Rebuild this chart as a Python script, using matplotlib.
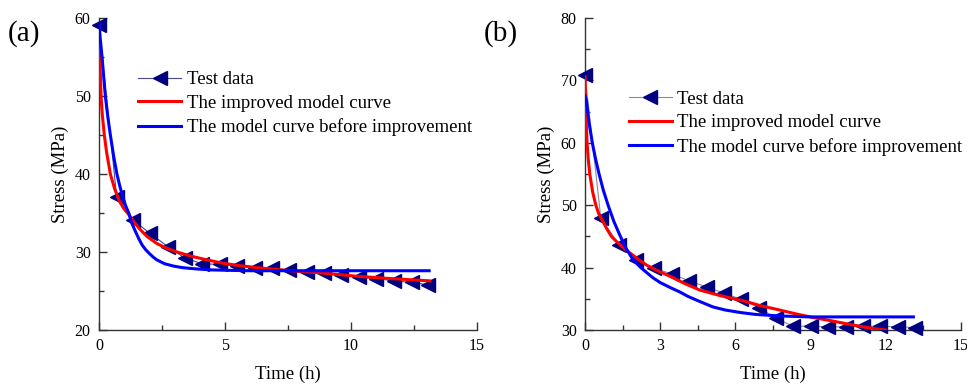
import matplotlib
matplotlib.use("Agg")
import matplotlib.pyplot as plt
from matplotlib.ticker import MultipleLocator

plt.rcParams['font.family'] = ['Liberation Serif', 'DejaVu Serif']

# ---- panel (a) ----
time_a = [0.0, 0.70, 1.34, 2.02, 2.73, 3.41, 4.10, 4.80, 5.49, 6.18,
          6.87, 7.55, 8.24, 8.93, 9.62, 10.30, 11.00, 11.70, 12.40, 13.07]
stress_a = [59.1, 37.1, 34.1, 32.4, 30.7, 29.2, 28.5, 28.4, 28.2, 28.0,
            27.9, 27.7, 27.5, 27.3, 27.05, 26.8, 26.6, 26.3, 26.1, 25.8]

red_t_a = [0.0, 0.03, 0.08, 0.13, 0.21, 0.30, 0.45, 0.62, 0.82, 1.0, 1.18, 1.4,
           1.6, 1.9, 2.29, 2.6, 3.0, 3.61, 4.2, 4.93, 5.6, 6.26, 7.58, 8.9,
           10.2, 11.55, 13.13]
red_s_a = [59.1, 55.0, 50.0, 47.6, 45.0, 42.8, 40.0, 38.1, 36.45, 35.5, 34.8, 33.8,
           33.0, 32.0, 31.1, 30.6, 30.1, 29.5, 29.05, 28.55, 28.25, 28.0, 27.6, 27.3,
           26.9, 26.6, 26.3]

blue_t_a = [0.0, 0.05, 0.12, 0.25, 0.35, 0.45, 0.58, 0.71, 0.83, 0.95, 1.06, 1.18,
            1.3, 1.45, 1.58, 1.71, 1.85, 2.0, 2.15, 2.29, 2.6, 2.95, 3.3, 3.61,
            4.0, 4.5, 5.2, 6.0, 13.1]
blue_s_a = [59.4, 57.3, 55.0, 50.0, 47.3, 45.0, 42.3, 40.0, 38.4, 37.0, 35.9, 35.0,
            33.7, 32.6, 31.7, 30.9, 30.3, 29.8, 29.35, 29.0, 28.5, 28.2, 28.0, 27.9,
            27.8, 27.7, 27.65, 27.6, 27.6]

# ---- panel (b) ----
time_b = [0.0, 0.63, 1.37, 2.05, 2.75, 3.45, 4.14, 4.85, 5.55, 6.24,
          6.94, 7.61, 8.30, 9.00, 9.69, 10.40, 11.10, 11.76, 12.50, 13.16]
stress_b = [70.9, 47.9, 43.6, 41.2, 39.9, 39.0, 37.9, 36.9, 35.9, 34.9,
            33.6, 31.9, 30.6, 30.6, 30.5, 30.5, 30.6, 30.6, 30.5, 30.4]

red_t_b = [0.0, 0.03, 0.08, 0.13, 0.19, 0.3, 0.43, 0.55, 0.7, 0.87, 1.05, 1.25,
           1.45, 1.67, 1.91, 2.2, 2.5, 2.95, 3.45, 4.0, 4.58, 5.4, 6.3, 7.0,
           7.77, 8.4, 9.1, 9.8, 10.43, 11.1, 11.75, 12.0]
red_s_b = [70.6, 65.3, 60.0, 57.3, 55.0, 52.2, 50.0, 48.6, 47.5, 46.2, 45.0, 44.2,
           43.5, 42.7, 42.0, 41.1, 40.3, 39.4, 38.5, 37.4, 36.4, 35.5, 34.7, 33.9,
           33.2, 32.6, 32.0, 31.5, 31.0, 30.5, 30.1, 30.0]

blue_t_b = [0.0, 0.05, 0.15, 0.29, 0.42, 0.56, 0.73, 0.92, 1.15, 1.41, 1.65,
            1.91, 2.2, 2.46, 2.7, 3.0, 3.4, 3.78, 4.1, 4.5, 5.1, 5.6, 6.2, 6.8,
            7.77, 9.0, 13.1]
blue_s_b = [67.5, 66.9, 63.5, 60.0, 57.4, 55.0, 52.4, 50.0, 47.4, 45.0, 43.0,
            41.3, 40.1, 39.2, 38.4, 37.6, 36.8, 36.1, 35.4, 34.7, 33.7, 33.2, 32.8,
            32.5, 32.25, 32.1, 32.1]

labels = ['Test data', 'The improved model curve', 'The model curve before improvement']

fig = plt.figure(figsize=(9.67, 3.84), dpi=100)
ax_a = fig.add_axes([0.1024, 0.1406, 0.3909, 0.8125])
ax_b = fig.add_axes([0.6050, 0.1406, 0.3888, 0.8125])


def style_axes(ax, xmaj, ymaj, xlim, ylim):
    ax.set_xlim(*xlim)
    ax.set_ylim(*ylim)
    ax.xaxis.set_major_locator(MultipleLocator(xmaj))
    ax.xaxis.set_minor_locator(MultipleLocator(xmaj / 2))
    ax.yaxis.set_major_locator(MultipleLocator(ymaj))
    ax.yaxis.set_minor_locator(MultipleLocator(ymaj / 2))
    ax.spines['top'].set_visible(False)
    ax.spines['right'].set_visible(False)
    for s in ('left', 'bottom'):
        ax.spines[s].set_color('#333333')
        ax.spines[s].set_linewidth(1.0)
    ax.tick_params(which='major', direction='in', length=6, width=1.0,
                   color='#333333', labelsize=11.5, pad=6)
    ax.tick_params(which='minor', direction='in', length=3.5, width=1.0,
                   color='#333333')
    ax.set_xlabel('Time (h)', fontsize=13.5, labelpad=8)
    ax.set_ylabel('Stress (MPa)', fontsize=13.5, labelpad=4)


def draw(ax, t, s, rt, rs, bt, bs, lc):
    ax.plot(t, s, color=lc, lw=0.8, marker='<', ms=9.5,
            mfc='#000080', mec='#000080', label=labels[0], clip_on=False, zorder=3)
    ax.plot(rt, rs, color='#ff0000', lw=2.2, label=labels[1], zorder=4)
    ax.plot(bt, bs, color='#0000ff', lw=2.2, label=labels[2], zorder=4)


draw(ax_a, time_a, stress_a, red_t_a, red_s_a, blue_t_a, blue_s_a, '#4a4a90')
style_axes(ax_a, 5, 10, (0, 15), (20, 60))
ax_a.legend(loc='upper left', bbox_to_anchor=(0.103, 0.83), frameon=False,
            fontsize=13.5, handlelength=2.3, handletextpad=0.3,
            labelspacing=0.35, borderpad=0, borderaxespad=0)

draw(ax_b, time_b, stress_b, red_t_b, red_s_b, blue_t_b, blue_s_b, '#8888a0')
style_axes(ax_b, 3, 10, (0, 15), (30, 80))
ax_b.legend(loc='upper left', bbox_to_anchor=(0.116, 0.768), frameon=False,
            fontsize=13.5, handlelength=2.3, handletextpad=0.3,
            labelspacing=0.35, borderpad=0, borderaxespad=0)

fig.text(0.008, 0.912, '(a)', fontsize=21, va='center', ha='left')
fig.text(0.500, 0.912, '(b)', fontsize=21, va='center', ha='left')

fig.savefig('out.png', dpi=100)
